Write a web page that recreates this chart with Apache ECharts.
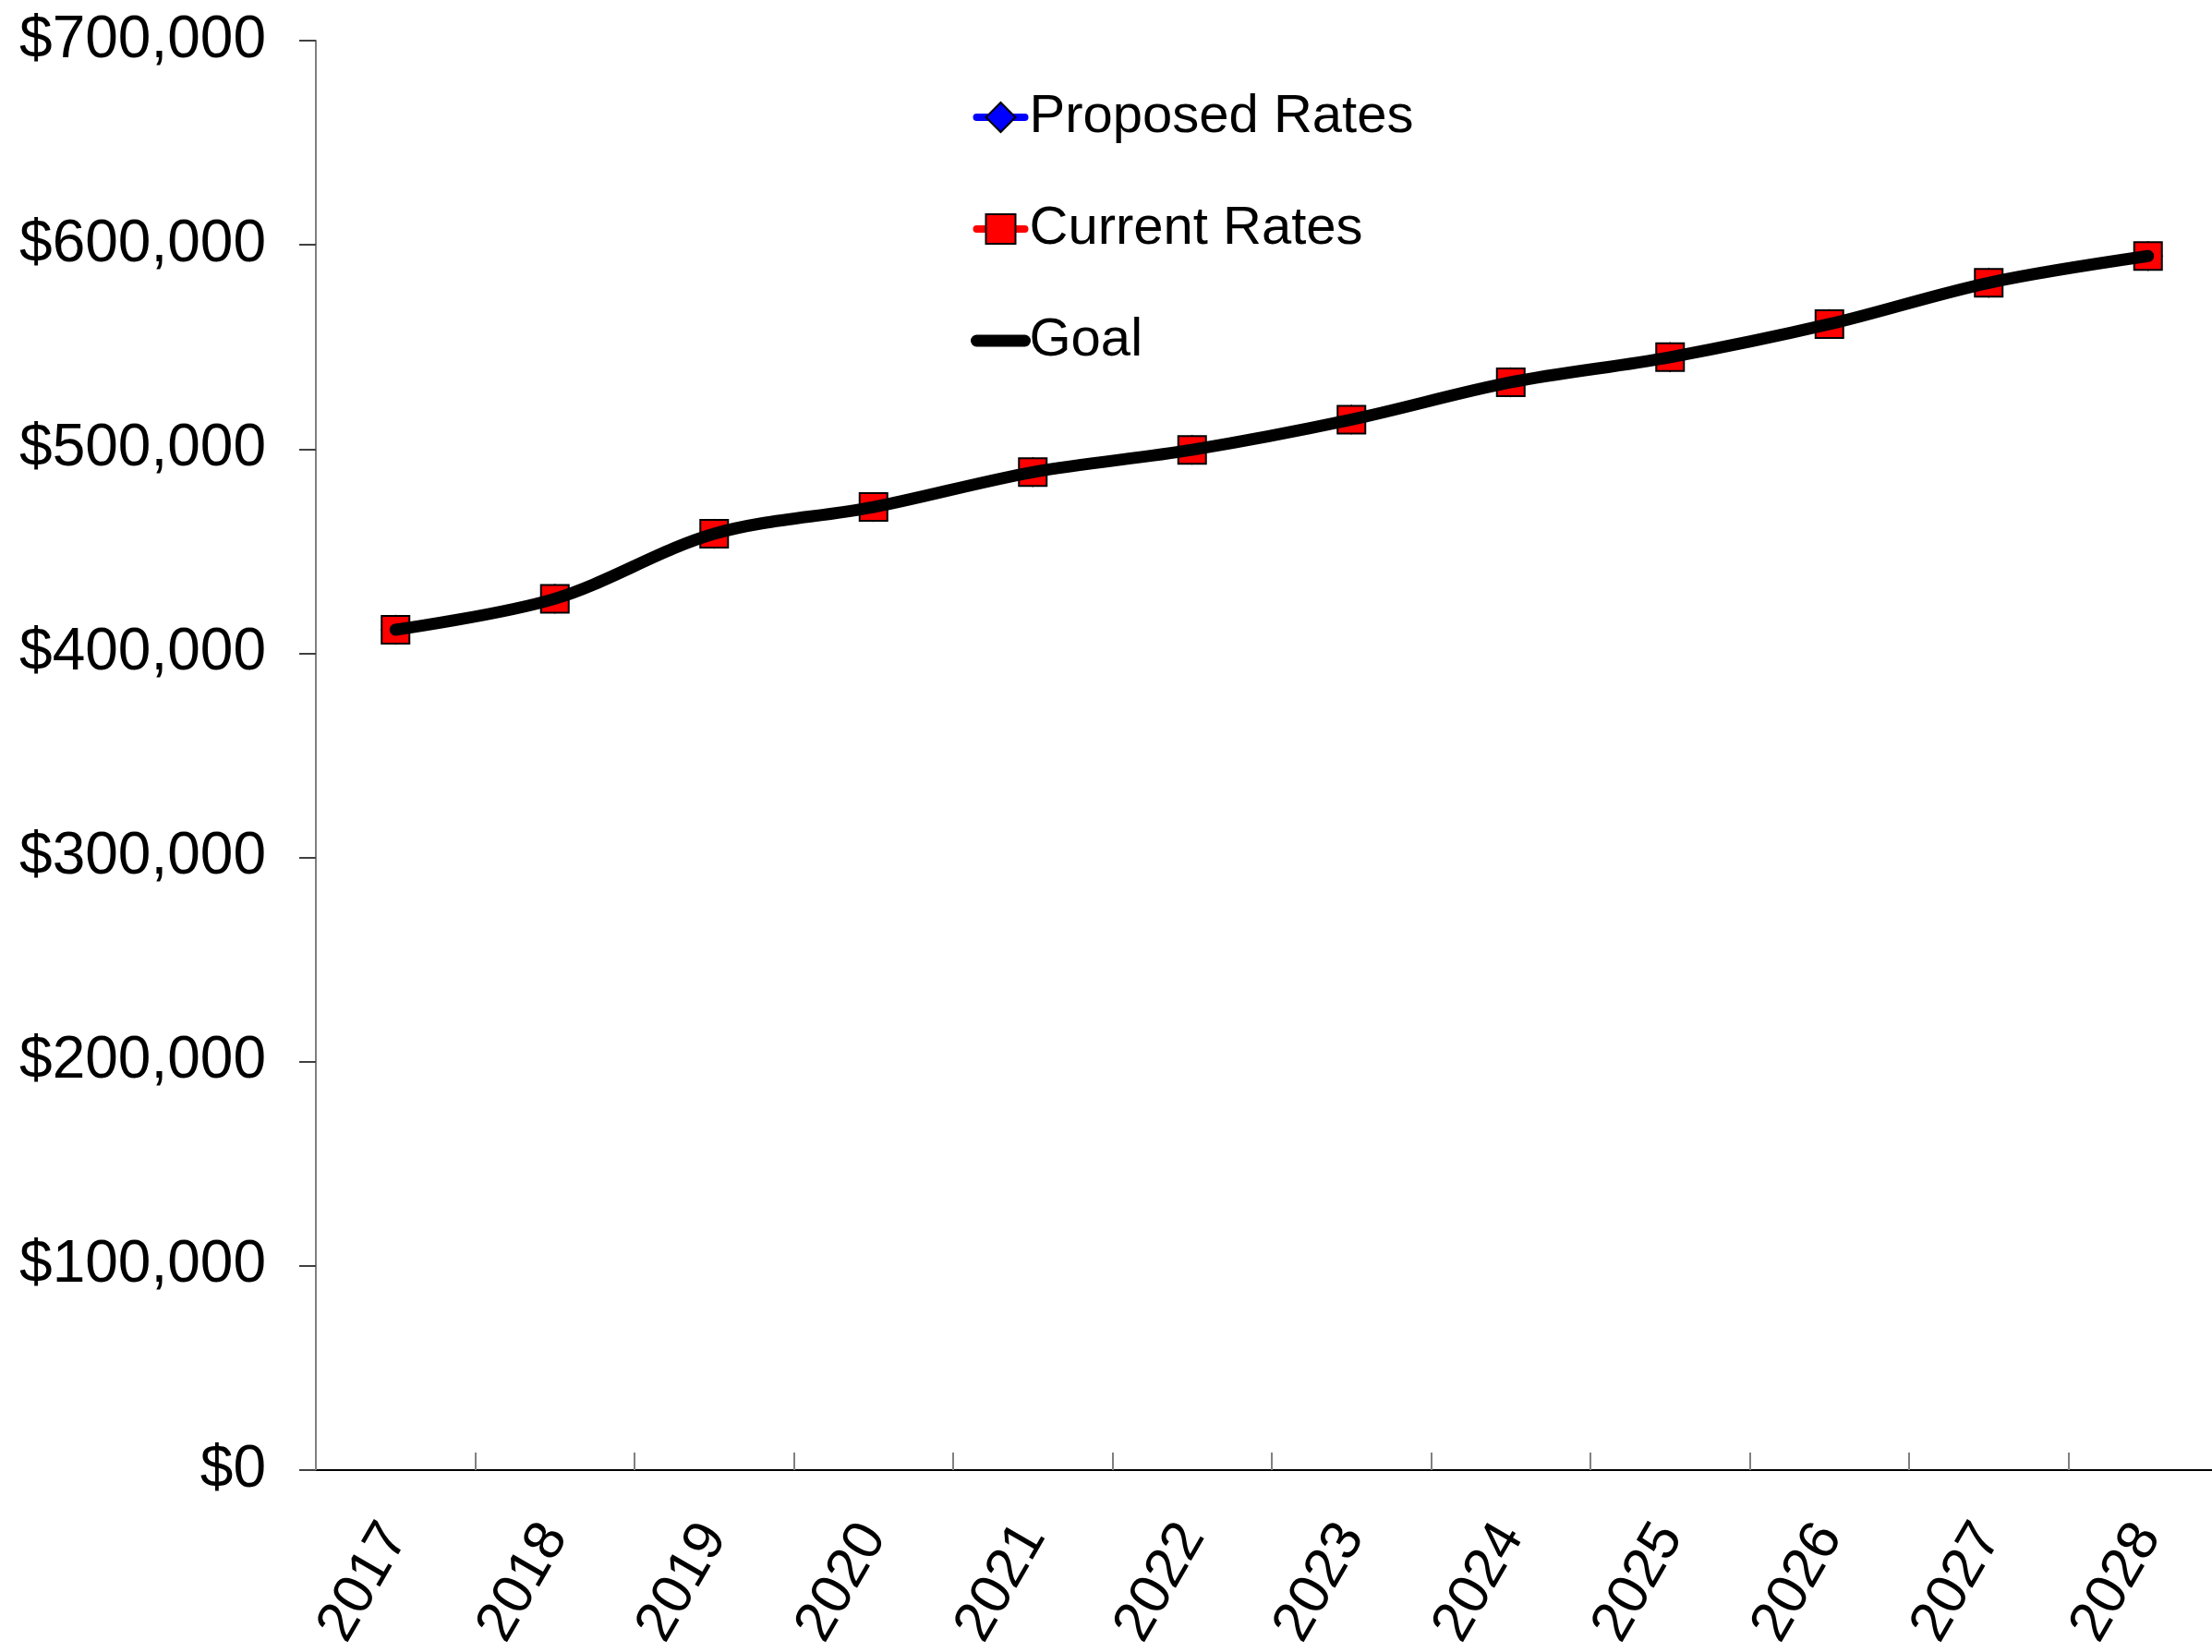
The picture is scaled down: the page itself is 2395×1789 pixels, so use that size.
<!DOCTYPE html>
<html>
<head>
<meta charset="utf-8">
<script src="https://cdn.jsdelivr.net/npm/echarts@6/dist/echarts.min.js"></script>
<style>
  html, body { margin: 0; padding: 0; background: #fff; }
  #chart { width: 2395px; height: 1789px; }
</style>
</head>
<body>
<div id="chart"></div>
<script>
// Fiscal years on the category axis
const years = ['2017', '2018', '2019', '2020', '2021', '2022', '2023', '2024', '2025', '2026', '2027', '2028'];

// Annual revenue under each rate scenario (dollars)
const proposedRates = [411500, 426700, 458500, 471600, 488700, 499600, 514400, 532700, 545000, 561200, 581400, 594500];
const currentRates  = [411500, 426700, 458500, 471600, 488700, 499600, 514400, 532700, 545000, 561200, 581400, 594500];
const goal          = [411500, 426700, 458500, 471600, 488700, 499600, 514400, 532700, 545000, 561200, 581400, 594500];

// Value axis range
const yMin = 0;
const yMax = 700000;
const yStep = 100000;

const FONT = '"Liberation Sans", Arial, sans-serif';

const chart = echarts.init(document.getElementById('chart'), null, { renderer: 'canvas' });

chart.setOption({
  animation: false,
  backgroundColor: '#ffffff',
  textStyle: { fontFamily: FONT, color: '#000' },
  grid: {
    left: 342,
    top: 44,
    width: 2070,
    height: 1548,
    containLabel: false,
    outerBoundsMode: 'none'
  },
  legend: {
    orient: 'vertical',
    left: 1046,
    top: 93,
    itemWidth: 52,
    itemHeight: 40,
    itemGap: 63,
    textStyle: { fontFamily: FONT, fontSize: 58, color: '#000' },
    data: [
      { name: 'Proposed Rates', lineStyle: { width: 8, cap: 'round' } },
      { name: 'Current Rates', lineStyle: { width: 8, cap: 'round' } },
      { name: 'Goal', itemStyle: { opacity: 0 }, lineStyle: { width: 13, cap: 'round' } }
    ]
  },
  xAxis: {
    type: 'category',
    data: years,
    boundaryGap: true,
    axisLine: { show: true, lineStyle: { color: '#000', width: 2 } },
    axisTick: { show: true, inside: true, length: 19, alignWithLabel: false, lineStyle: { color: '#808080', width: 2 } },
    axisLabel: { rotate: 60, fontSize: 61, fontFamily: FONT, color: '#000', margin: 63, interval: 0 },
    splitLine: { show: false }
  },
  yAxis: {
    type: 'value',
    min: yMin,
    max: yMax,
    interval: yStep,
    axisLine: { show: true, lineStyle: { color: '#808080', width: 2 } },
    axisTick: { show: true, inside: false, length: 18, lineStyle: { color: '#404040', width: 2 } },
    axisLabel: {
      fontSize: 64,
      fontFamily: FONT,
      color: '#000',
      margin: 54,
      formatter: v => '$' + v.toLocaleString('en-US')
    },
    splitLine: { show: false }
  },
  series: [
    {
      name: 'Proposed Rates',
      type: 'line',
      data: proposedRates,
      smooth: 0.33,
      z: 2,
      symbol: 'diamond',
      symbolSize: 30,
      lineStyle: { color: '#0000ff', width: 8 },
      itemStyle: { color: '#0000ff', borderColor: '#000', borderWidth: 2 }
    },
    {
      name: 'Current Rates',
      type: 'line',
      data: currentRates,
      smooth: 0.33,
      z: 3,
      symbol: 'rect',
      symbolSize: 30,
      lineStyle: { color: '#ff0000', width: 8 },
      itemStyle: { color: '#ff0000', borderColor: '#000', borderWidth: 2 }
    },
    {
      name: 'Goal',
      type: 'line',
      data: goal,
      smooth: 0.33,
      z: 4,
      symbol: 'none',
      lineStyle: { color: '#000', width: 13, cap: 'round' },
      itemStyle: { color: '#000' }
    }
  ]
});
</script>
</body>
</html>
